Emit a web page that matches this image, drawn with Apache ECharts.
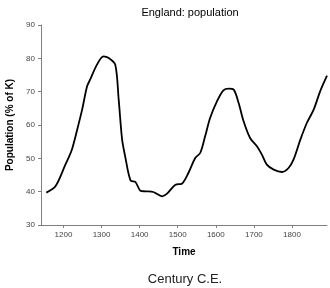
<!DOCTYPE html>
<html>
<head>
<meta charset="utf-8">
<script src="https://cdn.jsdelivr.net/npm/echarts@6/dist/echarts.min.js"></script>
<style>html,body{margin:0;padding:0;background:#fff}#c{width:330px;height:288px}</style>
</head>
<body>
<div id="c"></div>
<script>
var years = [1155,1179,1205,1222,1236,1249,1262,1270,1288,1305,1319,1336,1345,1354,1362,1376,1389,1402,1415,1436,1459,1472,1494,1511,1528,1546,1559,1572,1585,1603,1620,1634,1647,1660,1673,1690,1708,1721,1734,1752,1774,1791,1804,1822,1839,1857,1874,1892];
var population = [39.7,41.6,48.1,52.6,58.6,64.6,71.6,73.6,78.1,80.6,80.1,78.1,67.6,55.6,50.6,43.4,42.9,40.3,40.1,39.9,38.6,39.4,42.1,42.4,45.6,50.1,51.6,56.6,62.1,67.1,70.4,70.9,70.6,66.6,61.1,56.1,53.6,51.1,48.1,46.6,45.9,47.1,49.6,55.6,60.6,64.6,70.1,74.8];
var xTicks = [1200,1300,1400,1500,1600,1700,1800];
var yTicks = [30,40,50,60,70,80,90];

var chart = echarts.init(document.getElementById('c'), null, {renderer:'canvas'});
var data = years.map(function(y,i){return [y, population[i]];});
var axisColor = '#7f7f7f';
chart.setOption({
  animation: false,
  backgroundColor: '#fff',
  title: [{
    text: 'England: population', left: 185, top: 2, textAlign: 'center',
    textStyle: {fontFamily: 'Liberation Sans, Arial', fontSize: 11, fontWeight: 'normal', color: '#000'}
  },{
    text: 'Century C.E.', left: 180, top: 268, textAlign: 'center',
    textStyle: {fontFamily: 'Liberation Sans, Arial', fontSize: 13, fontWeight: 'normal', color: '#222'}
  }],
  grid: {left: 41, right: 3, top: 25, bottom: 63, outerBoundsMode: 'none', containLabel: false},
  xAxis: {
    type: 'value', min: 1141, max: 1892,
    name: 'Time', nameLocation: 'middle', nameGap: 22,
    nameTextStyle: {fontFamily: 'Liberation Sans, Arial', fontSize: 10, fontWeight: 'bold', color: '#000'},
    splitLine: {show: false},
    axisLine: {lineStyle: {color: axisColor, width: 1}},
    axisTick: {show: true, length: 3, customValues: xTicks, lineStyle: {color: axisColor}},
    axisLabel: {customValues: xTicks, formatter: function(v){return String(v);}, fontFamily: 'Liberation Sans, Arial', fontSize: 8, color: '#444', margin: 6}
  },
  yAxis: {
    type: 'value', min: 30, max: 90, interval: 10,
    name: 'Population (% of K)', nameLocation: 'middle', nameGap: 21, nameRotate: 90,
    nameTextStyle: {fontFamily: 'Liberation Sans, Arial', fontSize: 10, fontWeight: 'bold', color: '#000'},
    splitLine: {show: false},
    axisLine: {show: true, lineStyle: {color: axisColor, width: 1}},
    axisTick: {show: true, length: 3, lineStyle: {color: axisColor}},
    axisLabel: {fontFamily: 'Liberation Sans, Arial', fontSize: 8, color: '#444', margin: 6}
  },
  series: [{
    type: 'line', data: data, smooth: 0.3, showSymbol: false,
    lineStyle: {color: '#000', width: 1.8}
  }]
});
</script>
</body>
</html>
